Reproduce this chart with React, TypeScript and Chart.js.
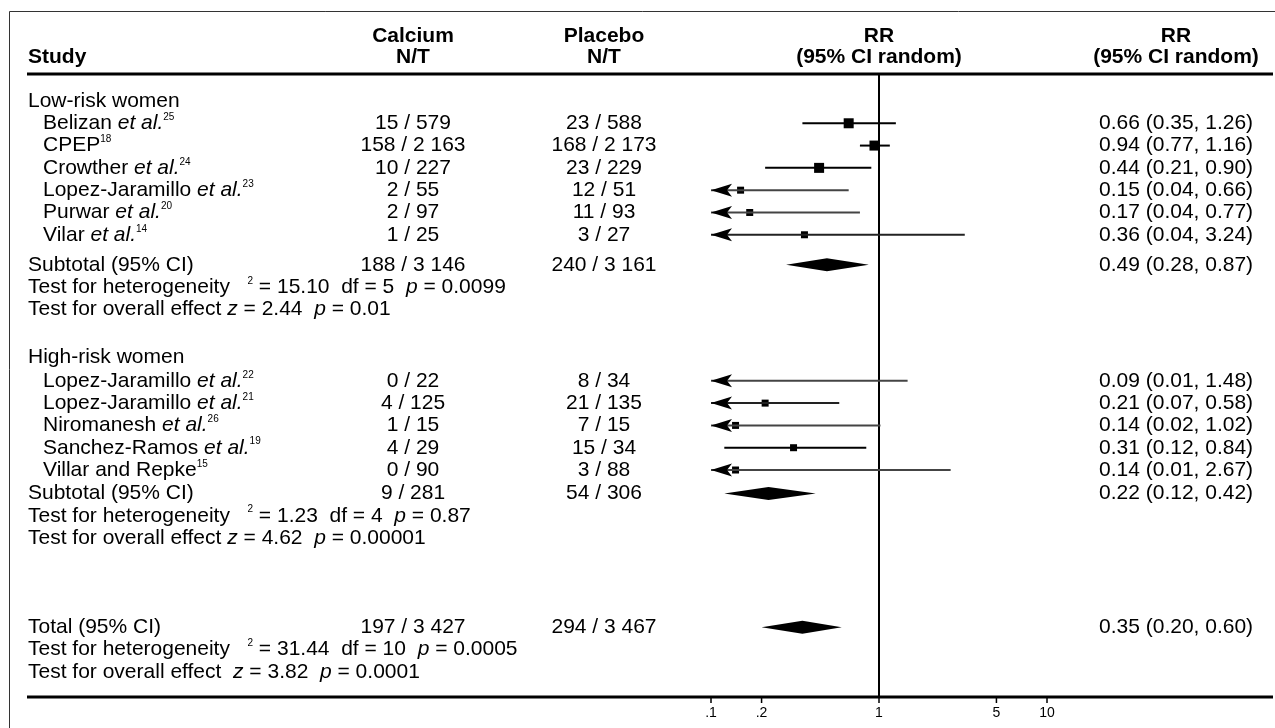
import React, { useEffect, useRef } from "react";
import { Chart, registerables } from "chart.js";

Chart.register(...registerables);

// ---------------- DATA ----------------
const lowStudies = ["Belizan", "CPEP", "Crowther", "Lopez-Jaramillo", "Purwar", "Vilar"];
const lowEtAl = [true, false, true, true, true, true];
const lowRefs = ["25", "18", "24", "23", "20", "14"];
const lowCalcium = ["15 / 579", "158 / 2 163", "10 / 227", "2 / 55", "2 / 97", "1 / 25"];
const lowPlacebo = ["23 / 588", "168 / 2 173", "23 / 229", "12 / 51", "11 / 93", "3 / 27"];
const lowRR = [0.66, 0.94, 0.44, 0.15, 0.17, 0.36];
const lowLo = [0.35, 0.77, 0.21, 0.04, 0.04, 0.04];
const lowHi = [1.26, 1.16, 0.9, 0.66, 0.77, 3.24];

const highStudies = ["Lopez-Jaramillo", "Lopez-Jaramillo", "Niromanesh", "Sanchez-Ramos", "Villar and Repke"];
const highEtAl = [true, true, true, true, false];
const highRefs = ["22", "21", "26", "19", "15"];
const highCalcium = ["0 / 22", "4 / 125", "1 / 15", "4 / 29", "0 / 90"];
const highPlacebo = ["8 / 34", "21 / 135", "7 / 15", "15 / 34", "3 / 88"];
const highRR = [0.09, 0.21, 0.14, 0.31, 0.14];
const highLo = [0.01, 0.07, 0.02, 0.12, 0.01];
const highHi = [1.48, 0.58, 1.02, 0.84, 2.67];

// pooled: [low-risk subtotal, high-risk subtotal, total]
const pooledLabels = ["Subtotal (95% CI)", "Subtotal (95% CI)", "Total (95% CI)"];
const pooledCalcium = ["188 / 3 146", "9 / 281", "197 / 3 427"];
const pooledPlacebo = ["240 / 3 161", "54 / 306", "294 / 3 467"];
const pooledRR = [0.49, 0.22, 0.35];
const pooledLo = [0.28, 0.12, 0.2];
const pooledHi = [0.87, 0.42, 0.6];
const hetChi = ["15.10", "1.23", "31.44"];
const hetDf = ["5", "4", "10"];
const hetP = ["0.0099", "0.87", "0.0005"];
const effZ = ["2.44", "4.62", "3.82"];
const effP = ["0.01", "0.00001", "0.0001"];

const groupLabels = ["Low-risk women", "High-risk women"];

const tickValues = [0.1, 0.2, 1, 5, 10];
const tickLabels = [".1", ".2", "1", "5", "10"];

// ---------------- LAYOUT / STYLE ----------------
const W = 1275;
const H = 728;
const FONT = '"Liberation Sans", Arial, Helvetica, sans-serif';
const FS = 21;
const lowGroupRow = 0;
const lowRows = [1, 2, 3, 4, 5, 6];
const lowPooledRows = [7.35, 8.35, 9.35];
const highGroupRow = 11.5;
const highRows = [12.55, 13.55, 14.55, 15.55, 16.55];
const highPooledRows = [17.6, 18.6, 19.6];
const totalRows = [23.6, 24.6, 25.6];
const lowSides = [10, 10, 10, 7, 7, 7];
const highSides = [7, 7, 7, 7, 7];
const lowLineColors = ["#000", "#000", "#000", "#444", "#444", "#222"];
const highLineColors = ["#444", "#222", "#444", "#000", "#444"];

const COL_LABEL = 28;
const COL_STUDY = 43;
const COL_CALC = 413;
const COL_PLAC = 604;
const COL_RR = 879;
const COL_RRTXT = 1099;
const COL_RRHEAD = 1176;
const HEAD_Y1 = 36;
const HEAD_Y2 = 57;
const RULE_L = 27;
const RULE_R = 1273;

type Run = { t: string; s?: "i" | "b" | "sup" };

function fontFor(s?: string) {
  if (s === "i") return `italic ${FS}px ${FONT}`;
  if (s === "b") return `bold ${FS}px ${FONT}`;
  if (s === "sup") return `10px ${FONT}`;
  return `${FS}px ${FONT}`;
}

function drawRuns(ctx: CanvasRenderingContext2D, runs: Run[], x: number, y: number, align: "left" | "center") {
  let w = 0;
  for (const r of runs) {
    ctx.font = fontFor(r.s);
    w += ctx.measureText(r.t).width;
  }
  let cx = align === "center" ? x - w / 2 : x;
  for (const r of runs) {
    ctx.font = fontFor(r.s);
    ctx.textAlign = "left";
    ctx.fillText(r.t, cx, r.s === "sup" ? y - 6 : y);
    cx += ctx.measureText(r.t).width;
  }
}

function studyRuns(name: string, etAl: boolean, ref: string): Run[] {
  const runs: Run[] = [{ t: name }];
  if (etAl) {
    runs.push({ t: " " });
    runs.push({ t: "et al.", s: "i" });
  }
  runs.push({ t: ref, s: "sup" });
  return runs;
}

function rrText(rr: number, lo: number, hi: number) {
  return `${rr.toFixed(2)} (${lo.toFixed(2)}, ${hi.toFixed(2)})`;
}

const forestPlugin = {
  id: "forest",
  beforeDatasetsDraw(chart: any) {
    const ctx: CanvasRenderingContext2D = chart.ctx;
    const xs = chart.scales.x;
    const ys = chart.scales.y;
    const area = chart.chartArea;
    ctx.save();
    ctx.fillStyle = "#000";
    ctx.strokeStyle = "#000";
    ctx.textBaseline = "middle";

    // frame
    ctx.lineWidth = 1;
    ctx.strokeStyle = "#333";
    ctx.beginPath();
    ctx.moveTo(9.5, H);
    ctx.lineTo(9.5, 11.5);
    ctx.lineTo(W, 11.5);
    ctx.stroke();

    // rules
    ctx.strokeStyle = "#000";
    ctx.lineWidth = 3;
    ctx.beginPath();
    ctx.moveTo(RULE_L, area.top);
    ctx.lineTo(RULE_R, area.top);
    ctx.moveTo(RULE_L, area.bottom);
    ctx.lineTo(RULE_R, area.bottom);
    ctx.stroke();

    // line of no effect
    const x1 = xs.getPixelForValue(1);
    ctx.lineWidth = 2;
    ctx.beginPath();
    ctx.moveTo(x1, area.top);
    ctx.lineTo(x1, area.bottom);
    ctx.stroke();

    // ticks
    ctx.lineWidth = 1.5;
    ctx.font = `14px ${FONT}`;
    ctx.textAlign = "center";
    tickValues.forEach((v, i) => {
      const px = xs.getPixelForValue(v);
      ctx.beginPath();
      ctx.moveTo(px, area.bottom);
      ctx.lineTo(px, area.bottom + 6);
      ctx.stroke();
      ctx.fillText(tickLabels[i], px, area.bottom + 16);
    });

    // headers
    drawRuns(ctx, [{ t: "Study", s: "b" }], COL_LABEL, HEAD_Y2, "left");
    drawRuns(ctx, [{ t: "Calcium", s: "b" }], COL_CALC, HEAD_Y1, "center");
    drawRuns(ctx, [{ t: "N/T", s: "b" }], COL_CALC, HEAD_Y2, "center");
    drawRuns(ctx, [{ t: "Placebo", s: "b" }], COL_PLAC, HEAD_Y1, "center");
    drawRuns(ctx, [{ t: "N/T", s: "b" }], COL_PLAC, HEAD_Y2, "center");
    drawRuns(ctx, [{ t: "RR", s: "b" }], COL_RR, HEAD_Y1, "center");
    drawRuns(ctx, [{ t: "(95% CI random)", s: "b" }], COL_RR, HEAD_Y2, "center");
    drawRuns(ctx, [{ t: "RR", s: "b" }], COL_RRHEAD, HEAD_Y1, "center");
    drawRuns(ctx, [{ t: "(95% CI random)", s: "b" }], COL_RRHEAD, HEAD_Y2, "center");

    // groups
    drawRuns(ctx, [{ t: groupLabels[0] }], COL_LABEL, ys.getPixelForValue(lowGroupRow), "left");
    drawRuns(ctx, [{ t: groupLabels[1] }], COL_LABEL, ys.getPixelForValue(highGroupRow), "left");

    const studyBlock = (
      names: string[], etAl: boolean[], refs: string[], calc: string[], plac: string[],
      rr: number[], lo: number[], hi: number[], rows: number[]
    ) => {
      names.forEach((n, i) => {
        const y = ys.getPixelForValue(rows[i]);
        drawRuns(ctx, studyRuns(n, etAl[i], refs[i]), COL_STUDY, y, "left");
        drawRuns(ctx, [{ t: calc[i] }], COL_CALC, y, "center");
        drawRuns(ctx, [{ t: plac[i] }], COL_PLAC, y, "center");
        drawRuns(ctx, [{ t: rrText(rr[i], lo[i], hi[i]) }], COL_RRTXT, y, "left");
      });
    };
    studyBlock(lowStudies, lowEtAl, lowRefs, lowCalcium, lowPlacebo, lowRR, lowLo, lowHi, lowRows);
    studyBlock(highStudies, highEtAl, highRefs, highCalcium, highPlacebo, highRR, highLo, highHi, highRows);

    const pooledRowSets = [lowPooledRows, highPooledRows, totalRows];
    pooledLabels.forEach((lab, k) => {
      const rows = pooledRowSets[k];
      const y0 = ys.getPixelForValue(rows[0]);
      const y1 = ys.getPixelForValue(rows[1]);
      const y2 = ys.getPixelForValue(rows[2]);
      drawRuns(ctx, [{ t: lab }], COL_LABEL, y0, "left");
      drawRuns(ctx, [{ t: pooledCalcium[k] }], COL_CALC, y0, "center");
      drawRuns(ctx, [{ t: pooledPlacebo[k] }], COL_PLAC, y0, "center");
      drawRuns(ctx, [{ t: rrText(pooledRR[k], pooledLo[k], pooledHi[k]) }], COL_RRTXT, y0, "left");
      drawRuns(
        ctx,
        [
          { t: "Test for heterogeneity   " },
          { t: "2", s: "sup" },
          { t: ` = ${hetChi[k]}  df = ${hetDf[k]}  ` },
          { t: "p", s: "i" },
          { t: ` = ${hetP[k]}` },
        ],
        COL_LABEL, y1, "left"
      );
      drawRuns(
        ctx,
        [
          { t: k === 2 ? "Test for overall effect  " : "Test for overall effect " },
          { t: "z", s: "i" },
          { t: ` = ${effZ[k]}  ` },
          { t: "p", s: "i" },
          { t: ` = ${effP[k]}` },
        ],
        COL_LABEL, y2, "left"
      );
    });
    ctx.restore();
  },
  afterDatasetsDraw(chart: any) {
    const ctx: CanvasRenderingContext2D = chart.ctx;
    const xs = chart.scales.x;
    const ys = chart.scales.y;
    const area = chart.chartArea;
    const xmin = xs.min;
    ctx.save();
    ctx.fillStyle = "#000";
    // arrowheads for CIs running off the left of the scale
    const arrows = (lo: number[], rows: number[]) => {
      lo.forEach((v, i) => {
        if (v >= xmin) return;
        const x = area.left;
        const y = ys.getPixelForValue(rows[i]);
        ctx.beginPath();
        ctx.moveTo(x, y);
        ctx.lineTo(x + 21, y - 6.5);
        ctx.lineTo(x + 16, y);
        ctx.lineTo(x + 21, y + 6.5);
        ctx.closePath();
        ctx.fill();
      });
    };
    arrows(lowLo, lowRows);
    arrows(highLo, highRows);
    // diamonds
    const pooledRowSets = [lowPooledRows, highPooledRows, totalRows];
    pooledRR.forEach((rr, k) => {
      const y = ys.getPixelForValue(pooledRowSets[k][0]);
      const xl = xs.getPixelForValue(pooledLo[k]);
      const xc = xs.getPixelForValue(rr);
      const xr = xs.getPixelForValue(pooledHi[k]);
      ctx.beginPath();
      ctx.moveTo(xl, y);
      ctx.lineTo(xc, y - 6.5);
      ctx.lineTo(xr, y);
      ctx.lineTo(xc, y + 6.5);
      ctx.closePath();
      ctx.fill();
    });
    ctx.restore();
  },
};

export default function App() {
  const ref = useRef<HTMLCanvasElement | null>(null);
  useEffect(() => {
    if (!ref.current) return;
    const ciSets: any[] = [];
    const addCI = (lo: number[], hi: number[], rows: number[], colors: string[]) => {
      lo.forEach((l, i) => {
        ciSets.push({
          type: "scatter",
          showLine: true,
          data: [
            { x: l, y: rows[i] },
            { x: hi[i], y: rows[i] },
          ],
          borderColor: colors[i],
          borderWidth: 2,
          pointRadius: 0,
        });
      });
    };
    addCI(lowLo, lowHi, lowRows, lowLineColors);
    addCI(highLo, highHi, highRows, highLineColors);
    const pts = [
      ...lowRR.map((v, i) => ({ x: v, y: lowRows[i] })),
      ...highRR.map((v, i) => ({ x: v, y: highRows[i] })),
    ];
    const sides = [...lowSides, ...highSides];
    const chart = new Chart(ref.current, {
      type: "scatter",
      data: {
        datasets: [
          ...ciSets,
          {
            type: "scatter",
            data: pts,
            pointStyle: "rect",
            pointRadius: sides.map((s) => s / Math.SQRT2),
            backgroundColor: "#000",
            borderWidth: 0,
          },
        ],
      },
      options: {
        animation: false,
        responsive: false,
        maintainAspectRatio: false,
        events: [],
        layout: { padding: { left: 711, right: W - 1047, top: 74, bottom: H - 697 } },
        scales: {
          x: { type: "logarithmic", min: 0.1, max: 10, display: false },
          y: { type: "linear", min: -1.21, max: 26.73, reverse: true, display: false },
        },
        plugins: { legend: { display: false }, tooltip: { enabled: false } },
      } as any,
      plugins: [forestPlugin],
    });
    return () => chart.destroy();
  }, []);
  return (
    <div style={{ position: "fixed", left: 0, top: 0, width: W, height: H, background: "#fff" }}>
      <canvas ref={ref} width={W} height={H} style={{ width: W, height: H, display: "block" }} />
    </div>
  );
}
